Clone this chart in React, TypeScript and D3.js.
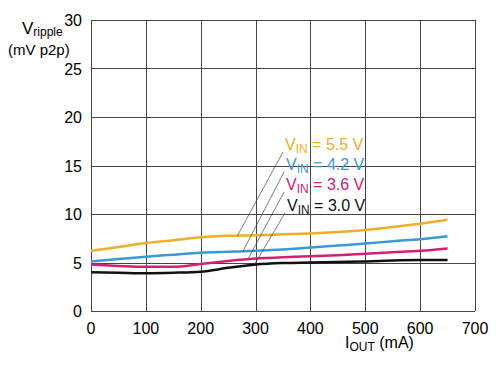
import React, { useEffect, useRef } from "react";
import * as d3 from "d3";

// load current in mA
const iout = [0, 50, 100, 150, 200, 250, 300, 350, 400, 450, 500, 550, 600, 650];
// ripple in mV p2p for each input voltage
const vin55 = [6.2, 6.6, 7.0, 7.3, 7.6, 7.75, 7.8, 7.9, 8.0, 8.15, 8.35, 8.65, 9.0, 9.4];
const vin42 = [5.1, 5.35, 5.6, 5.8, 6.0, 6.1, 6.2, 6.35, 6.55, 6.75, 6.95, 7.2, 7.4, 7.7];
const vin36 = [4.8, 4.65, 4.55, 4.55, 4.85, 5.15, 5.4, 5.55, 5.65, 5.75, 5.9, 6.05, 6.2, 6.45];
const vin30 = [4.0, 3.95, 3.9, 3.95, 4.05, 4.45, 4.8, 4.95, 5.0, 5.05, 5.1, 5.2, 5.25, 5.25];

const seriesNames = ["5.5 V", "4.2 V", "3.6 V", "3.0 V"];
const seriesColors = ["#eeae2a", "#3a98d8", "#d4206e", "#111111"];
// where each leader line touches its curve (mA)
const leaderAt = [267, 277, 286, 298];

const xTicks = [0, 100, 200, 300, 400, 500, 600, 700];
const yTicks = [0, 5, 10, 15, 20, 25, 30];

const App = () => {
  const svgRef = useRef<SVGSVGElement>(null);

  useEffect(() => {
    const svg = d3.select(svgRef.current);
    svg.selectAll("*").remove();

    const width = 500;
    const height = 366;
    const margin = { top: 20, right: 25, bottom: 55, left: 91 };
    const font = "'Liberation Sans', Arial, sans-serif";

    const x = d3.scaleLinear().domain([0, 700]).range([margin.left, width - margin.right]);
    const y = d3.scaleLinear().domain([0, 30]).range([height - margin.bottom, margin.top]);

    svg.append("rect").attr("width", width).attr("height", height).attr("fill", "#fff");

    // grid
    const grid = svg.append("g").attr("stroke", "#444").attr("stroke-width", 1);
    yTicks.forEach((t) => {
      grid
        .append("line")
        .attr("x1", x(0))
        .attr("x2", x(700))
        .attr("y1", Math.round(y(t)) + 0.5)
        .attr("y2", Math.round(y(t)) + 0.5);
    });
    xTicks.forEach((t) => {
      grid
        .append("line")
        .attr("x1", Math.round(x(t)) + 0.5)
        .attr("x2", Math.round(x(t)) + 0.5)
        .attr("y1", y(0))
        .attr("y2", y(30));
    });

    // tick labels
    svg
      .append("g")
      .selectAll("text")
      .data(yTicks)
      .join("text")
      .attr("x", margin.left - 9)
      .attr("y", (d) => y(d) + 6)
      .attr("text-anchor", "end")
      .attr("font-family", font)
      .attr("font-size", 16)
      .text((d) => d);

    svg
      .append("g")
      .selectAll("text")
      .data(xTicks)
      .join("text")
      .attr("x", (d) => x(d))
      .attr("y", y(0) + 23)
      .attr("text-anchor", "middle")
      .attr("font-family", font)
      .attr("font-size", 16)
      .text((d) => d);

    // axis titles
    const yt = svg.append("text").attr("font-family", font).attr("font-size", 16);
    yt.append("tspan").attr("x", 22).attr("y", 34).attr("font-size", 17).text("V");
    yt.append("tspan").attr("dy", 2).attr("font-size", 12).text("ripple");
    svg
      .append("text")
      .attr("x", 8)
      .attr("y", 55)
      .attr("font-family", font)
      .attr("font-size", 15)
      .text("(mV p2p)");

    const xt = svg.append("text").attr("font-family", font).attr("font-size", 16);
    xt.append("tspan").attr("x", 345).attr("y", 348).text("I");
    xt.append("tspan").attr("dy", 3).attr("font-size", 12).text("OUT");
    xt.append("tspan").attr("dy", -3).text(" (mA)");

    // curves
    const allSeries = [vin55, vin42, vin36, vin30];
    const line = d3
      .line<number>()
      .x((_, i) => x(iout[i]))
      .y((d) => y(d))
      .curve(d3.curveMonotoneX);

    allSeries.forEach((vals, k) => {
      svg
        .append("path")
        .datum(vals)
        .attr("fill", "none")
        .attr("stroke", seriesColors[k])
        .attr("stroke-width", 2.5)
        .attr("d", line);
    });

    // labels with leader lines
    const labelY = [150, 170, 190, 211];
    const labelX = [285, 286, 286, 287];
    seriesNames.forEach((name, k) => {
      const vals = allSeries[k];
      const target = d3.scaleLinear().domain(iout).range(vals)(leaderAt[k]);
      svg
        .append("line")
        .attr("x1", labelX[k] - 2)
        .attr("y1", labelY[k] + 2)
        .attr("x2", x(leaderAt[k]))
        .attr("y2", y(target))
        .attr("stroke", "#444")
        .attr("stroke-width", 0.7);

      const t = svg
        .append("text")
        .attr("font-family", font)
        .attr("font-size", 16)
        .attr("fill", seriesColors[k]);
      t.append("tspan").attr("x", labelX[k]).attr("y", labelY[k]).text("V");
      t.append("tspan").attr("dy", 3).attr("font-size", 12).text("IN");
      t.append("tspan").attr("dy", -3).text(` = ${name}`);
    });
  }, []);

  return <svg ref={svgRef} width={500} height={366} style={{ position: "absolute", left: 0, top: 0 }} />;
};

export default App;
